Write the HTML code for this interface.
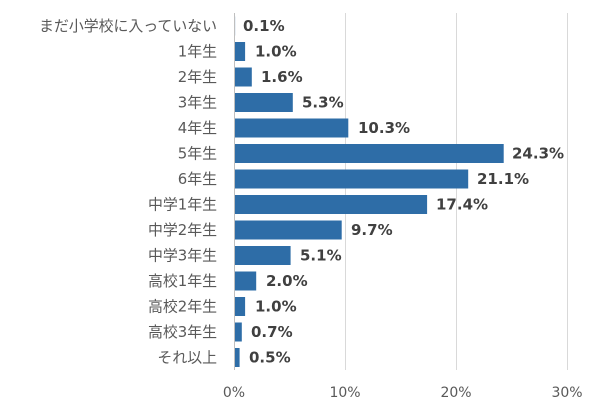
<!DOCTYPE html>
<html><head><meta charset="utf-8"><style>body{margin:0;background:#fff}svg{display:block}</style></head>
<body>
<svg width="600" height="409" xmlns="http://www.w3.org/2000/svg" font-family="DejaVu Sans, Noto Sans CJK JP, sans-serif">
<g stroke="#d9d9d9" stroke-width="1">
<line x1="345.5" y1="13" x2="345.5" y2="370"/>
<line x1="456.5" y1="13" x2="456.5" y2="370"/>
<line x1="567.5" y1="13" x2="567.5" y2="370"/>
</g>
<g fill="#2e6da7">
<rect x="234" y="16.5" width="1.1" height="19"/>
<rect x="234" y="42" width="11.1" height="19"/>
<rect x="234" y="67.5" width="17.8" height="19"/>
<rect x="234" y="93" width="58.8" height="19"/>
<rect x="234" y="118.5" width="114.3" height="19"/>
<rect x="234" y="144" width="269.7" height="19"/>
<rect x="234" y="169.5" width="234.2" height="19"/>
<rect x="234" y="195" width="193.1" height="19"/>
<rect x="234" y="220.5" width="107.7" height="19"/>
<rect x="234" y="246" width="56.6" height="19"/>
<rect x="234" y="271.5" width="22.2" height="19"/>
<rect x="234" y="297" width="11.1" height="19"/>
<rect x="234" y="322.5" width="7.8" height="19"/>
<rect x="234" y="348" width="5.6" height="19"/>
</g>
<line x1="234.5" y1="13" x2="234.5" y2="370" stroke="#bfbfbf"/>
<g font-size="14.9" fill="#595959" text-anchor="end">
<text x="217" y="31">まだ小学校に入っていない</text>
<text x="217" y="56.5">1年生</text>
<text x="217" y="82">2年生</text>
<text x="217" y="107.5">3年生</text>
<text x="217" y="133">4年生</text>
<text x="217" y="158.5">5年生</text>
<text x="217" y="184">6年生</text>
<text x="217" y="209.5">中学1年生</text>
<text x="217" y="235">中学2年生</text>
<text x="217" y="260.5">中学3年生</text>
<text x="217" y="286">高校1年生</text>
<text x="217" y="311.5">高校2年生</text>
<text x="217" y="337">高校3年生</text>
<text x="217" y="362.5">それ以上</text>
</g>
<g font-size="15" font-weight="bold" fill="#404040">
<text x="243" y="31">0.1%</text>
<text x="255" y="56.5">1.0%</text>
<text x="261" y="82">1.6%</text>
<text x="302" y="107.5">5.3%</text>
<text x="358" y="133">10.3%</text>
<text x="512" y="158.5">24.3%</text>
<text x="477" y="184">21.1%</text>
<text x="436" y="209.5">17.4%</text>
<text x="351" y="235">9.7%</text>
<text x="300" y="260.5">5.1%</text>
<text x="266" y="286">2.0%</text>
<text x="255" y="311.5">1.0%</text>
<text x="251" y="337">0.7%</text>
<text x="249" y="362.5">0.5%</text>
</g>
<g font-size="14" fill="#595959" text-anchor="middle">
<text x="234" y="397">0%</text>
<text x="345" y="397">10%</text>
<text x="456" y="397">20%</text>
<text x="567" y="397">30%</text>
</g>
</svg>
</body></html>
